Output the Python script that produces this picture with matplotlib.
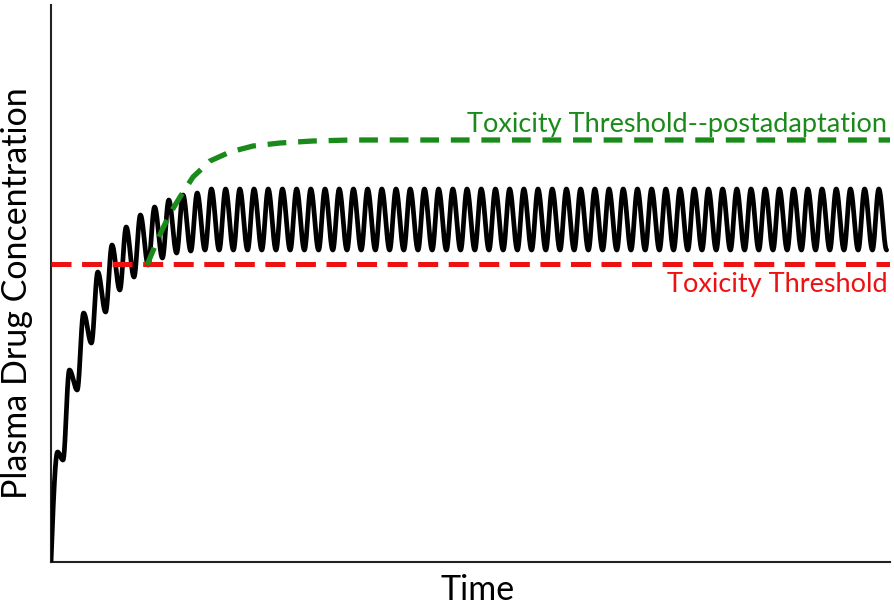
import numpy as np
import matplotlib
matplotlib.use("Agg")
import matplotlib.pyplot as plt

plt.rcParams['font.family'] = ['Lato', 'DejaVu Sans']
plt.rcParams['lines.scale_dashes'] = False

# ---- data (arbitrary units: time since first dose, concentration) ----
first_interval = 12.0
dose_interval = 14.2
n_doses = 59
dose_times = [0.0] + [first_interval + dose_interval * k for k in range(n_doses)]
t_end = 836.0

# concentration at each dose (trough) and the peak that follows it
troughs = [0, 102, 172, 219, 250, 272, 285, 297, 304, 309, 311] + [312] * 48
peaks = [110, 192, 249, 290, 317, 335, 347, 355, 362, 367, 369] + [373] * 48

toxicity_threshold = 298

adapt_t = [96, 104, 112, 120, 129, 142, 159, 179, 202, 229, 262, 300, 839]
adapt_c = [297, 316, 334, 350, 365, 385, 401, 410, 416, 419, 421, 422, 422]

# ---- build the concentration curve cycle by cycle ----
tt, cc = [], []
for k in range(len(peaks)):
    t0 = dose_times[k]
    t1 = dose_times[k + 1] if k + 1 < len(dose_times) else t_end
    t1 = min(t1, t_end)
    if t1 <= t0:
        break
    c_lo = troughs[k]
    c_hi = peaks[k]
    c_next = troughs[k + 1] if k + 1 < len(troughs) else troughs[-1]
    a = 0.55 if k == 0 else 0.45
    tp = t0 + a * (dose_times[k + 1] - t0 if k + 1 < len(dose_times) else dose_interval)
    u = np.linspace(0, 1, 30)
    if k == 0:
        rise = np.sin(np.pi / 2 * u)
    else:
        rise = (1 - np.cos(np.pi * u)) / 2
    tt.extend(t0 + (tp - t0) * u)
    cc.extend(c_lo + (c_hi - c_lo) * rise)
    u2 = np.linspace(0, 1, 40)[1:]
    tf = tp + (t1 - tp) * u2
    tt.extend(tf)
    cc.extend(c_hi + (c_next - c_hi) * (1 - np.cos(np.pi * u2)) / 2)

W, H = 894, 605
fig = plt.figure(figsize=(W / 100, H / 100), dpi=100)
ax = fig.add_axes([51 / W, (H - 562) / H, (890 - 51) / W, (562 - 5) / H])
ax.set_xlim(0, 839)
ax.set_ylim(0, 557)

ax.plot(tt, cc, color='black', lw=3.4, solid_capstyle='round', zorder=3)
ax.axhline(toxicity_threshold, color='#ee1111', lw=3.6, dashes=(14.4, 7.6), zorder=4)
ax.plot(adapt_t, adapt_c, color='#1a8a1a', lw=3.8, dashes=(13.5, 8.5), zorder=4)

for s in ['top', 'right']:
    ax.spines[s].set_visible(False)
for s in ['left', 'bottom']:
    ax.spines[s].set_linewidth(1.5)
    ax.spines[s].set_color('#222222')
ax.set_xticks([])
ax.set_yticks([])

fig.text(887 / W, 1 - 132 / H, 'Toxicity Threshold--postadaptation', color='#1a8a1a',
         fontsize=19.5, ha='right', va='baseline')
fig.text(888 / W, 1 - 292 / H, 'Toxicity Threshold', color='#ee1111',
         fontsize=19.5, ha='right', va='baseline')
fig.text(478 / W, 1 - 600 / H, 'Time', color='black', fontsize=24.5, ha='center', va='baseline')
fig.text(17 / W, 1 - 293 / H, 'Plasma Drug Concentration', color='black', fontsize=24.5,
         ha='center', va='center', rotation=90)

fig.savefig('out.png', dpi=100)
